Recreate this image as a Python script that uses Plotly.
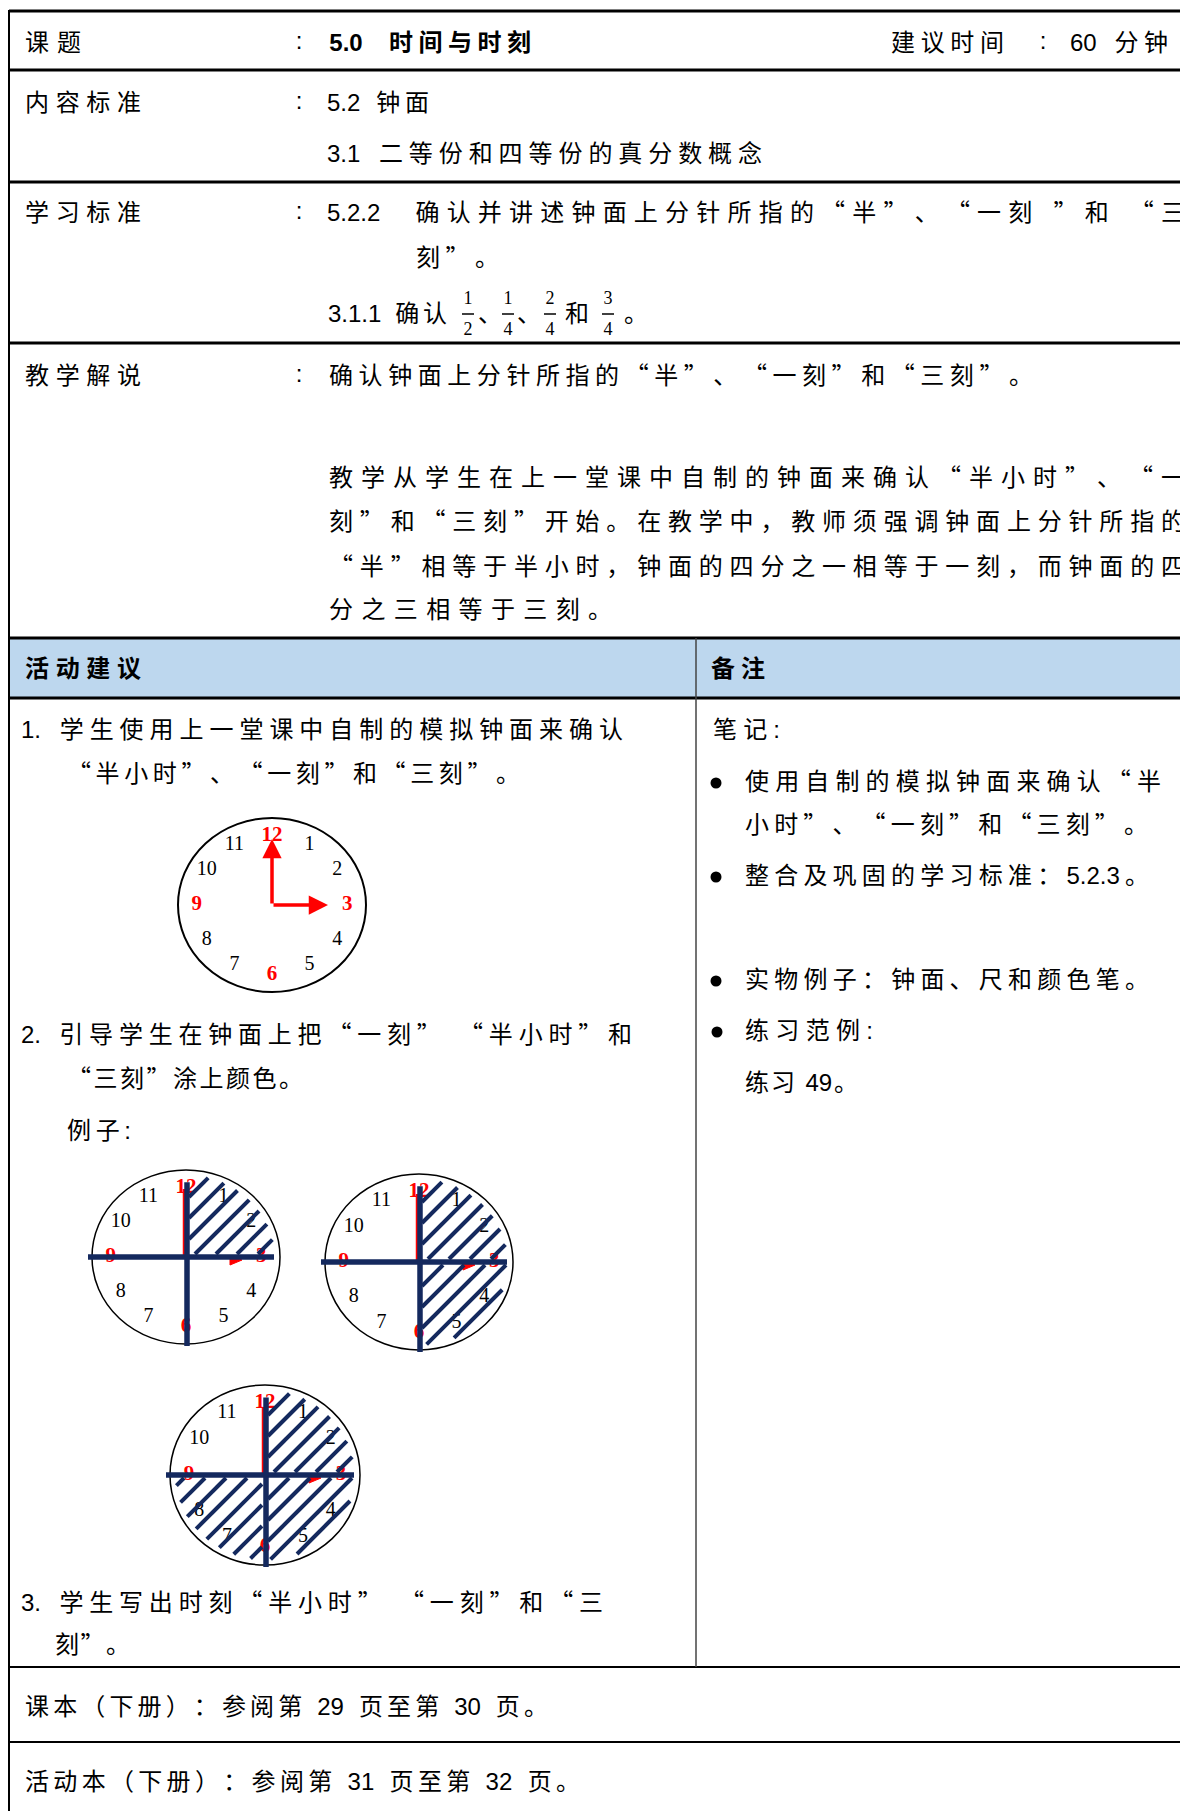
import re
import math
import plotly.graph_objects as go

W, H = 1188, 1811
PAGE_OFF = 8  # browser body margin
TEXT_DY = 3.5  # baseline correction for body text

# ---------------- data ----------------
clock_numbers = [12, 1, 2, 3, 4, 5, 6, 7, 8, 9, 10, 11]
red_numbers = [12, 3, 6, 9]
example_names = ["一刻", "半小时", "三刻"]
example_quadrants = [["TR"], ["TR", "BR"], ["TR", "BR", "BL"]]

title_label = "课题"
title_text = "5.0  时间与时刻"
duration_label = "建议时间"
duration_value = "60 分钟"
row_labels = ["内容标准", "学习标准", "教学解说"]
content_std = ["5.2 钟面", "3.1 二等份和四等份的真分数概念"]
learning_std = ["5.2.2  确认并讲述钟面上分针所指的“半”、“一刻 ”和 “三", "刻”。", "3.1.1 确认"]
fraction_nums = [1, 1, 2, 3]
fraction_dens = [2, 4, 4, 4]
fraction_seps = ["、", "、", "和", "。"]
teaching_note = "确认钟面上分针所指的“半”、“一刻”和“三刻”。"
teaching_para = [
    "教学从学生在上一堂课中自制的钟面来确认“半小时”、“一",
    "刻”和“三刻”开始。在教学中，教师须强调钟面上分针所指的",
    "“半”相等于半小时，钟面的四分之一相等于一刻，而钟面的四",
    "分之三相等于三刻。",
]
table_headers = ["活动建议", "备注"]
activity_1 = ["1. 学生使用上一堂课中自制的模拟钟面来确认", "“半小时”、“一刻”和“三刻”。"]
activity_2 = ["2. 引导学生在钟面上把“一刻” “半小时”和", "“三刻”涂上颜色。", "例子:"]
activity_3 = ["3. 学生写出时刻“半小时” “一刻”和“三", "刻”。"]
notes = ["笔记:", "使用自制的模拟钟面来确认“半", "小时”、“一刻”和“三刻”。",
         "整合及巩固的学习标准：5.2.3。", "实物例子：钟面、尺和颜色笔。", "练习范例:", "练习 49。"]
references = ["课本（下册）：参阅第 29 页至第 30 页。", "活动本（下册）：参阅第 31 页至第 32 页。"]

# ---------------- styling ----------------
CJK = "Noto Sans CJK SC"
LAT = "Liberation Sans"
SER = "Liberation Serif"
SIZE = 24
NAVY = "#14295e"
RED = "#ff0000"
HEAD_BG = "#bdd7ee"

fig = go.Figure()
shapes = []
groups = {}


def add_pt(key, x, y, t):
    g = groups.setdefault(key, {"x": [], "y": [], "t": []})
    g["x"].append(x)
    g["y"].append(y)
    g["t"].append(t)


def tok_width(tk, size):
    if tk.isspace():
        return 0.28 * size
    if re.fullmatch(r"[0-9A-Za-z\.:]+", tk):
        w = 0
        for ch in tk:
            w += (0.278 if ch in ".:" else 0.556) * size
        return w
    return size


def place(text, x0, y, x1=None, bold=False, size=SIZE, gap=4.5):
    y = y + TEXT_DY
    toks = re.findall(r"[0-9A-Za-z\.:]+|\s|.", text)
    widths = [tok_width(t, size) for t in toks]
    nat = sum(widths)
    if x1 is not None and len(toks) > 1:
        gap = (x1 - x0 - nat) / (len(toks) - 1)
    x = x0
    for tk, w in zip(toks, widths):
        if not tk.isspace():
            lat = re.fullmatch(r"[0-9A-Za-z\.:]+", tk) is not None
            key = (LAT if lat else CJK, size, "black", "bold" if bold else "normal")
            add_pt(key, x + w / 2, y, tk)
        x += w + gap


def hline(y, x0, x1, w, color="black"):
    shapes.append(dict(type="line", xref="x", yref="y", x0=x0, x1=x1, y0=y, y1=y,
                       line=dict(color=color, width=w), layer="above"))


def vline(x, y0, y1, w, color="black"):
    shapes.append(dict(type="line", xref="x", yref="y", x0=x, x1=x, y0=y0, y1=y1,
                       line=dict(color=color, width=w), layer="above"))


# ---------------- table frame ----------------
shapes.append(dict(type="rect", xref="x", yref="y", x0=9, x1=W + 2, y0=638, y1=698,
                   fillcolor=HEAD_BG, line=dict(width=0), layer="below"))
for yy, ww in [(11, 3), (70, 3), (182, 3), (343, 3), (638, 3), (698, 3), (1667, 2), (1742, 2)]:
    hline(yy, 9, W + 2, ww)
vline(9, 10, H + 2, 2)
vline(696, 638, 1667, 1.5, "#444444")

# ---------------- header text ----------------
place(title_label, 25, 41, 81)
for yy in [41, 101, 211, 374]:
    add_pt((LAT, SIZE, "black", "normal"), 299, yy - 2 + TEXT_DY, ":")
toks_title = title_text.split("  ")
add_pt((LAT, SIZE, "black", "bold"), 346, 41 + TEXT_DY, toks_title[0])
place(toks_title[1], 389, 41, 531, bold=True)
place(duration_label, 891, 41, 1004)
add_pt((LAT, SIZE, "black", "normal"), 1043, 39 + TEXT_DY, ":")
place(duration_value, 1070, 41, 1168)

place(row_labels[0], 25, 101, 141)
place(content_std[0], 327, 101, 429)
place(content_std[1], 327, 152, 762)

place(row_labels[1], 25, 211, 141)
place(learning_std[0], 327, 211, 1185)
place(learning_std[1], 416, 256, 499)
place(learning_std[2], 328, 312, 447)
frac_x = [468, 508, 550, 608]
sep_x = [490, 529, 577, 636]
for n, d, fx in zip(fraction_nums, fraction_dens, frac_x):
    add_pt((SER, 18, "black", "normal"), fx, 299, str(n))
    add_pt((SER, 18, "black", "normal"), fx, 330, str(d))
    shapes.append(dict(type="line", xref="x", yref="y", x0=fx - 6, x1=fx + 6, y0=314, y1=314,
                       line=dict(color="black", width=1.5)))
for s, sx in zip(fraction_seps, sep_x):
    add_pt((CJK, SIZE, "black", "normal"), sx, 312 + TEXT_DY, s)

place(row_labels[2], 25, 374, 141)
place(teaching_note, 329, 374, 1033)
for line, yy, xe in zip(teaching_para, [476, 520, 565, 608], [1185, 1185, 1185, 612]):
    place(line, 329, yy, xe)

place(table_headers[0], 25, 667, 141, bold=True)
place(table_headers[1], 711, 667, 765, bold=True)

# ---------------- activity column ----------------
place(activity_1[0], 21, 728, 623)
place(activity_1[1], 67, 772, 520)
place(activity_2[0], 21, 1033, 632)
place(activity_2[1], 67, 1077, 303)
place(activity_2[2], 67, 1129, 131)
place(activity_3[0], 21, 1601, 603)
place(activity_3[1], 55, 1643, 130)
place(references[0], 25, 1705, 548)
place(references[1], 25, 1780, 580)

# ---------------- notes column ----------------
place(notes[0], 713, 728, 780)
note_pos = [(780, 1161), (823, 1148), (874, 1149), (978, 1149), (1029, 873), (1081, 858)]
for txt, (yy, xe) in zip(notes[1:], note_pos):
    place(txt, 745, yy, xe)
fig.add_trace(go.Scatter(x=[716, 716, 716, 717], y=[783, 877, 981, 1032], mode="markers",
                         marker=dict(size=11, color="black"), hoverinfo="skip", showlegend=False,
                         cliponaxis=False))


# ---------------- clocks ----------------
def clock_face(cx, cy, rx, ry, lw):
    shapes.append(dict(type="circle", xref="x", yref="y", x0=cx - rx, x1=cx + rx,
                       y0=cy - ry, y1=cy + ry, line=dict(color="black", width=lw),
                       fillcolor="white", layer="below"))
    for n in clock_numbers:
        a = math.radians(n * 30)
        x = cx + 0.80 * rx * math.sin(a)
        y = cy - 0.80 * ry * math.cos(a)
        if n in red_numbers:
            add_pt((SER, 21, RED, "bold"), x, y, str(n))
        else:
            add_pt((SER, 20, "black", "normal"), x, y, str(n))


def hatch(cx, cy, rx, ry, quads, spacing=21, shrink=0.94):
    a, b = rx * shrink, ry * shrink
    A = 1 / a ** 2 + 1 / b ** 2
    for k in range(-14, 15):
        d = k * spacing + 6
        B = -2 * d / b ** 2
        C = d ** 2 / b ** 2 - 1
        disc = B * B - 4 * A * C
        if disc <= 0:
            continue
        u1 = (-B - math.sqrt(disc)) / (2 * A)
        u2 = (-B + math.sqrt(disc)) / (2 * A)
        for q in quads:
            lo, hi = u1, u2
            if q == "TR":
                lo = max(lo, 3, d + 3)
            elif q == "BR":
                lo = max(lo, 3)
                hi = min(hi, d - 3)
            elif q == "BL":
                hi = min(hi, -3, d - 3)
            if hi - lo > 4:
                shapes.append(dict(type="line", xref="x", yref="y",
                                   x0=cx + lo, y0=cy + d - lo, x1=cx + hi, y1=cy + d - hi,
                                   line=dict(color=NAVY, width=4), layer="above"))


# demonstration clock (3 o'clock)
c1 = (272, 905, 94, 87)
clock_face(*c1, 2)
for tx, ty in [(c1[0], c1[1] - 66), (c1[0] + 56, c1[1])]:
    fig.add_annotation(x=tx, y=ty, ax=c1[0], ay=c1[1], xref="x", yref="y", axref="x", ayref="y",
                       text="", showarrow=True, arrowhead=2, arrowsize=1.1, arrowwidth=3.5,
                       arrowcolor=RED, standoff=0)

# example clocks
ex_geom = [(186, 1257, 94, 87), (419, 1262, 94, 88), (265, 1475, 95, 90)]
for (cx, cy, rx, ry), quads in zip(ex_geom, example_quadrants):
    clock_face(cx, cy, rx, ry, 1.5)
    shapes.append(dict(type="line", xref="x", yref="y", x0=cx - 2, x1=cx - 2, y0=cy, y1=cy - 68,
                       line=dict(color=RED, width=2.5), layer="above"))
    shapes.append(dict(type="path", xref="x", yref="y",
                       path=f"M {cx+44} {cy-1} L {cx+56} {cy+3} L {cx+44} {cy+8} Z",
                       fillcolor=RED, line=dict(color=RED, width=1), layer="above"))
    hatch(cx, cy, rx, ry, quads)
    hline(cy, cx - rx - 4, cx + rx - 6, 5.5, NAVY)
    vline(cx + 1, cy - 0.86 * ry, cy + ry + 2, 5.5, NAVY)

# ---------------- text traces ----------------
for (fam, size, color, weight), g in groups.items():
    fig.add_trace(go.Scatter(x=g["x"], y=g["y"], text=g["t"], mode="text",
                             textposition="middle center", cliponaxis=False,
                             textfont=dict(family=fam, size=size, color=color, weight=weight),
                             hoverinfo="skip", showlegend=False))

# figure placed after the page's 8px body margin so data units equal page pixels
fig.update_layout(
    width=W - PAGE_OFF, height=H - PAGE_OFF, margin=dict(l=0, r=0, t=0, b=0),
    paper_bgcolor="white", plot_bgcolor="white", shapes=shapes, showlegend=False,
    xaxis=dict(range=[PAGE_OFF, W], visible=False, fixedrange=True),
    yaxis=dict(range=[H, PAGE_OFF], visible=False, fixedrange=True),
)
fig.write_html("out.html")
